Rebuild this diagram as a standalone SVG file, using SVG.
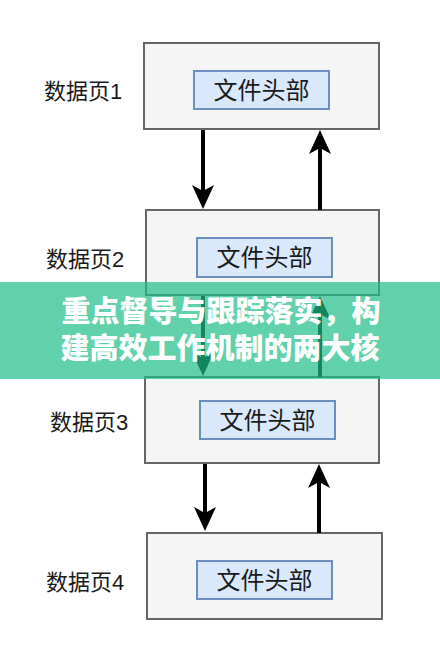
<svg xmlns="http://www.w3.org/2000/svg" width="440" height="662" viewBox="0 0 440 662">
<style>
.page{fill:#f5f5f5;stroke:#666666;stroke-width:2}
.hdr{fill:#dae8fc;stroke:#6c8ebf;stroke-width:2}
.lbl{font-family:"Liberation Sans","Noto Sans CJK SC",sans-serif;font-size:22px;fill:#1a1a1a}
.ht{font-family:"Liberation Sans","Noto Sans CJK SC",sans-serif;font-size:24px;fill:#1a1a1a;text-anchor:middle}
.conn line{stroke:#000;stroke-width:4;marker-end:url(#ah)}
.ban{font-family:"Noto Sans CJK SC","Noto Sans",sans-serif;font-size:29px;font-weight:900;fill:#ffffff;text-anchor:middle}
</style>
<defs>
<marker id="ah" viewBox="0 -12 24 24" refX="18" refY="0" markerWidth="24" markerHeight="24" markerUnits="userSpaceOnUse" orient="auto">
<path d="M0,-11 L24,0 L0,11 L6,0 Z" fill="#000"/>
</marker>
</defs>
<rect width="440" height="662" fill="#ffffff"/>
<g id="page1">
<rect class="page" x="144" y="43" width="235" height="86"/>
<rect class="hdr" x="194" y="71" width="135" height="38"/>
<text class="ht" x="261.5" y="99">文件头部</text>
<text class="lbl" x="44" y="99">数据页1</text>
</g>
<g id="page2">
<rect class="page" x="146" y="210" width="233" height="85"/>
<rect class="hdr" x="197" y="238" width="135" height="39"/>
<text class="ht" x="264.5" y="266">文件头部</text>
<text class="lbl" x="46" y="267">数据页2</text>
</g>
<g id="page3">
<rect class="page" x="145" y="377" width="234" height="86"/>
<rect class="hdr" x="200" y="401" width="135" height="38"/>
<text class="ht" x="267.5" y="429">文件头部</text>
<text class="lbl" x="50" y="430">数据页3</text>
</g>
<g id="page4">
<rect class="page" x="147" y="533" width="235" height="86"/>
<rect class="hdr" x="197" y="561" width="135" height="38"/>
<text class="ht" x="264.5" y="589">文件头部</text>
<text class="lbl" x="46" y="590">数据页4</text>
</g>
<g id="connectors" class="conn">
<line x1="203" y1="130" x2="203" y2="203"/>
<line x1="320" y1="210" x2="320" y2="136"/>
<line x1="203" y1="296" x2="203" y2="370"/>
<line x1="320" y1="377" x2="320" y2="302"/>
<line x1="205" y1="464" x2="205" y2="525"/>
<line x1="319" y1="533" x2="319" y2="470"/>
</g>
<g id="banner">
<rect x="0" y="282" width="440" height="97" fill="rgb(30,190,135)" fill-opacity="0.7"/>
<text class="ban" x="221" y="322">重点督导与跟踪落实，构</text>
<text class="ban" x="220" y="359">建高效工作机制的两大核</text>
</g>
</svg>
